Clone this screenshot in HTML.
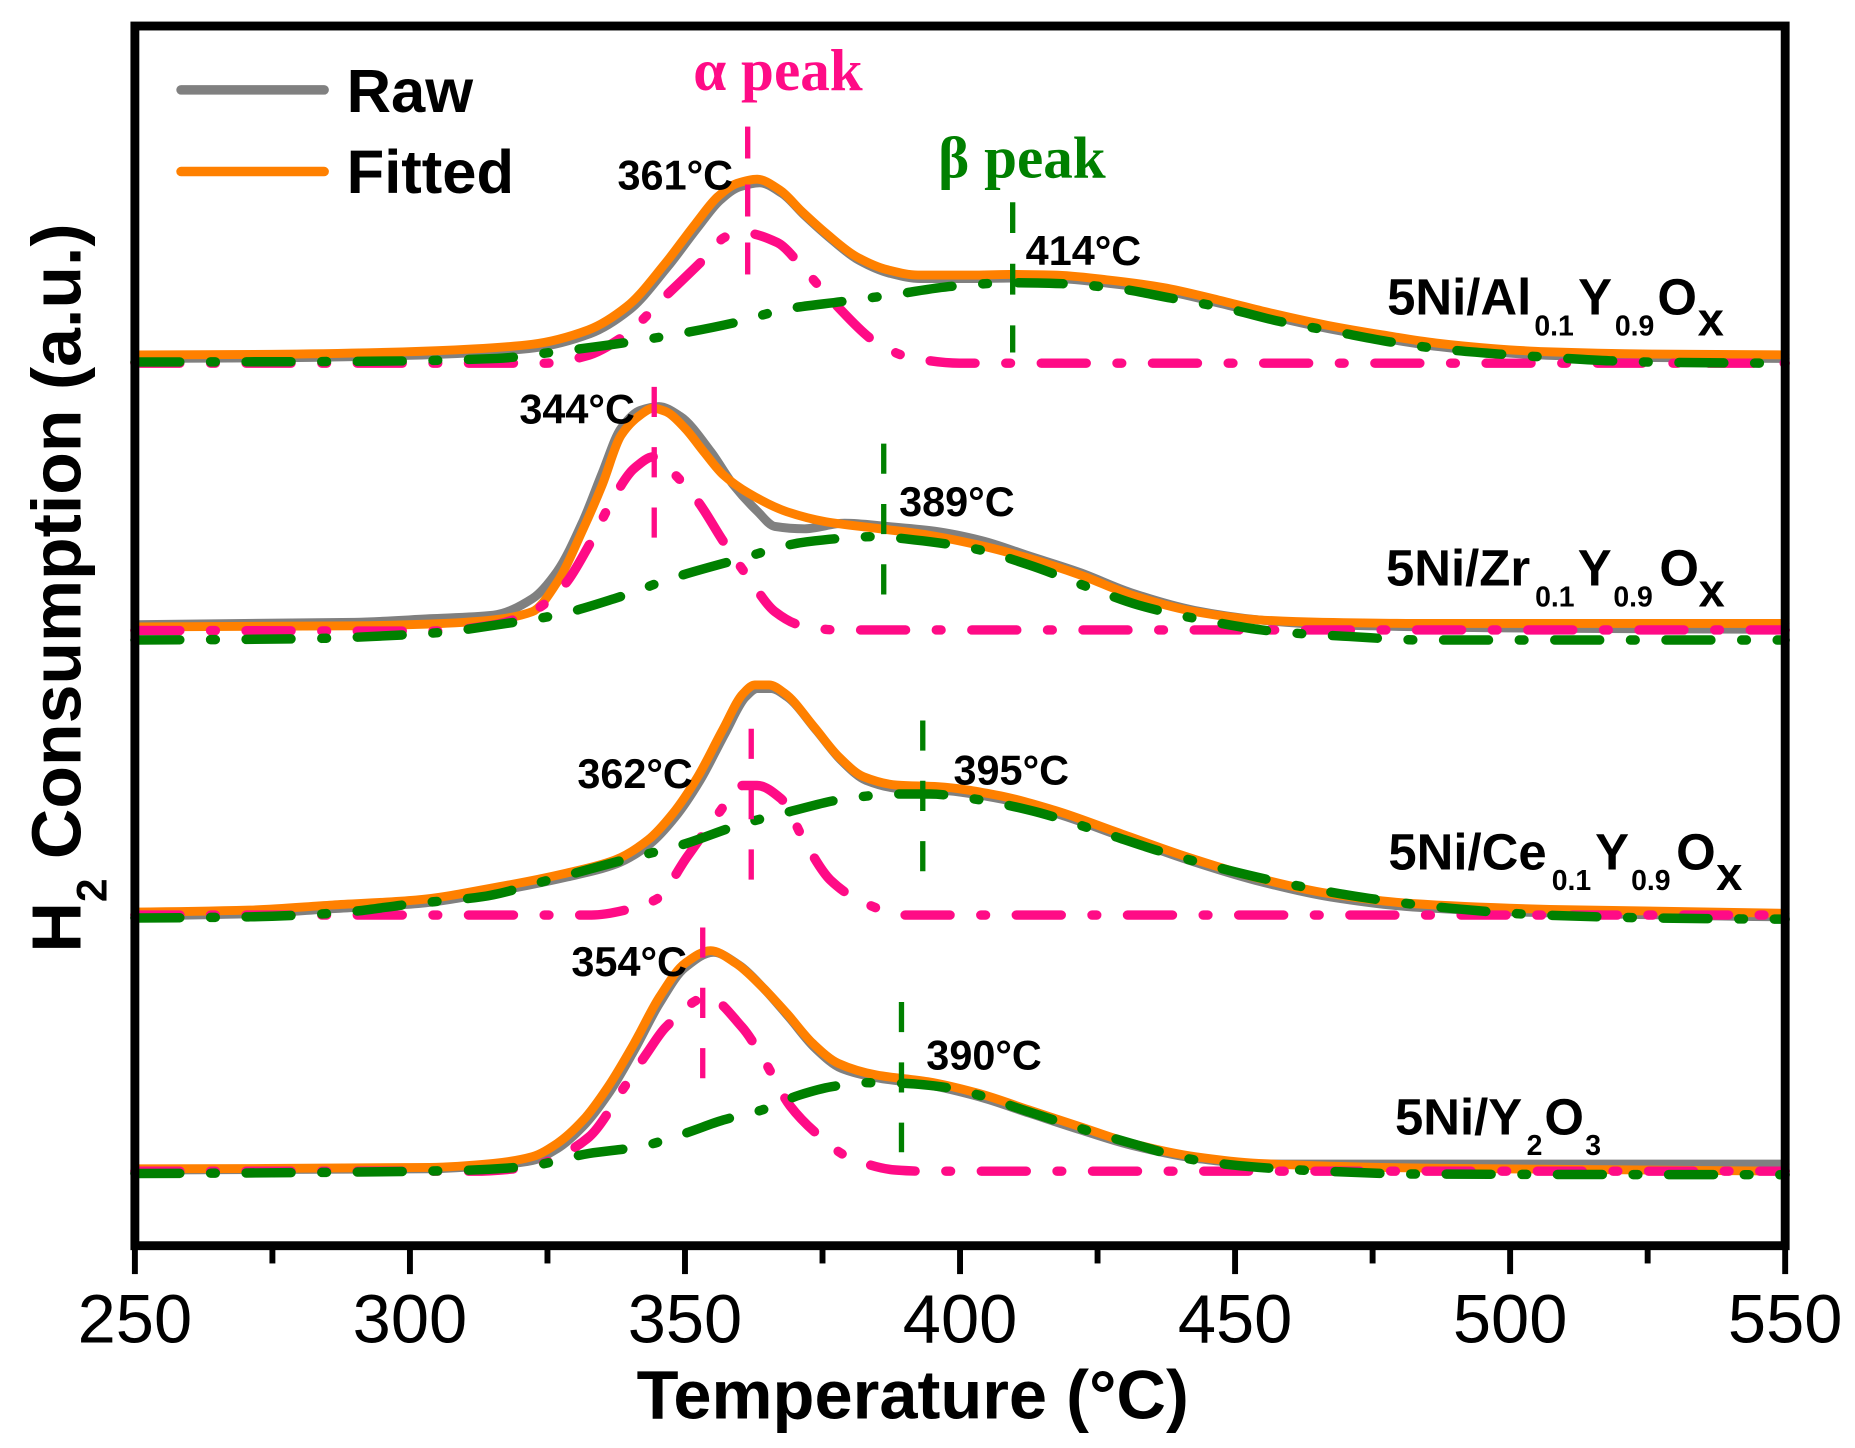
<!DOCTYPE html>
<html>
<head>
<meta charset="utf-8">
<style>
  html, body { margin: 0; padding: 0; background: #fff; }
  svg { display: block; }
</style>
</head>
<body>
<svg xmlns="http://www.w3.org/2000/svg" width="1855" height="1448" viewBox="0 0 1568 1224">
  <rect x="0" y="0" width="1568" height="1224" fill="#fff"/>

  <!-- ===== Panel 1 : 5Ni/Al0.1Y0.9Ox ===== -->
  <polyline class="s" transform="translate(2,3)" fill="none" stroke="#808080" stroke-width="7.5" stroke-linejoin="round" stroke-linecap="round"
    points="114,300 230,299.5 340,297.5 400,295 450,291 497,279 530,259 562,223 588,189 607,166 623,155 640,151.5 659,160.5 678,179 698,197 724,217 750,228 776,232.5 821,232.5 853,232 891,232.5 937,236.7 983,243 1030,253.6 1076,265 1122,275 1168,283 1214,290 1260,294.5 1306,297.3 1398,299.3 1507,300"/>
  <polyline class="s" fill="none" stroke="#ff8000" stroke-width="7.5" stroke-linejoin="round" stroke-linecap="round"
    points="114,300 230,299.5 340,297.5 400,295 450,291 497,279 530,259 562,223 588,189 607,166 623,155 640,151.5 659,160.5 678,179 698,197 724,217 750,228 776,232.5 821,232.5 853,232 891,232.5 937,236.7 983,243 1030,253.6 1076,265 1122,275 1168,283 1214,290 1260,294.5 1306,297.3 1398,299.3 1509,300"/>
  <polyline class="s" fill="none" stroke="#ff0b86" stroke-width="8" stroke-linecap="round" stroke-dasharray="38 26 4 26"
    points="114,307 460,307 495,301 526,285 565,248 594,220 614,200 630,197 657,205 680,228 704,255 743,291 769,302 811,307 1509,307"/>
  <polyline class="s" fill="none" stroke="#008000" stroke-width="8" stroke-linecap="round" stroke-dasharray="38 26 4 26"
    points="114,306 300,305.5 420,303 465,298 526,290 575,282 620,273 666,261 711,255 756,249 805,242 856,239 898,239.8 944,243.8 990,252 1037,260.7 1083,272 1129,280.4 1175,289 1221,295.3 1267,299.3 1315,302.4 1361,305 1407,306.3 1509,307"/>

  <!-- ===== Panel 2 : 5Ni/Zr0.1Y0.9Ox ===== -->
  <polyline class="s" fill="none" stroke="#808080" stroke-width="7.5" stroke-linejoin="round" stroke-linecap="round"
    points="114,528 300,526 363,523 417,520 450,506 471,483 493,440 509,400 525,362 541,347 557,343.7 575,352 601,382 620,410 640,432 655,445 680,447 714,442.3 750,445 790,449 830,457 870,470 913,484 956,501 1010,516 1064,524 1118,528 1300,531 1509,532"/>
  <polyline class="s" fill="none" stroke="#ff8000" stroke-width="7.5" stroke-linejoin="round" stroke-linecap="round"
    points="114,530 300,529 363,527.5 417,524 450,517 471,492 493,447 509,410 525,368 541,351 552,345 563,348 579,362 595,382 611.5,401.5 633,417 665,432.5 698,441 741,446.6 784,452.2 827,460.7 870,472 913,486 956.5,503 1010,517 1064,524 1118,526 1209,527 1509,527"/>
  <polyline class="s" fill="none" stroke="#ff0b86" stroke-width="8" stroke-linecap="round" stroke-dasharray="38 26 4 26"
    points="114,533 363,533.5 417,528.3 450,517 477,494.5 498,460.7 520,418.4 536,396 553,386 568,398.7 590,424 611.5,457.8 633,488.8 655,517 676,528.3 708,532.5 1509,532.5"/>
  <polyline class="s" fill="none" stroke="#008000" stroke-width="8" stroke-linecap="round" stroke-dasharray="38 26 4 26"
    points="114,541 250,540 363.5,535.3 428,527 471,519.8 520,505.8 568,488.8 622,473.4 682,458 741,453.6 773,456.4 822,463.5 870,477.6 919,496 962,511.4 1010,522.7 1080,534 1140,538 1204,541 1509,541"/>

  <!-- ===== Panel 3 : 5Ni/Ce0.1Y0.9Ox ===== -->
  <polyline class="s" transform="translate(2,3)" fill="none" stroke="#808080" stroke-width="7.5" stroke-linejoin="round" stroke-linecap="round"
    points="114,771 211,769.3 281,765 351.5,760.8 421.6,749.6 477.6,738.3 519.7,727 547.7,710.1 568.8,687.6 589.8,656.6 610.8,617.1 628.3,586.1 638,579 650,579 663.4,586.1 688,614.3 709,639.7 730,656.6 758,663.6 793,665 842,672 891,684.8 947,704.5 1003,724.2 1059,741.1 1122.5,755.2 1192.6,763.7 1310,768.7 1507,772"/>
  <polyline class="s" fill="none" stroke="#ff8000" stroke-width="7.5" stroke-linejoin="round" stroke-linecap="round"
    points="114,771 211,769.3 281,765 351.5,760.8 421.6,749.6 477.6,738.3 519.7,727 547.7,710.1 568.8,687.6 589.8,656.6 610.8,617.1 628.3,586.1 638,579 650,579 663.4,586.1 688,614.3 709,639.7 730,656.6 758,663.6 793,665 842,672 891,684.8 947,704.5 1003,724.2 1059,741.1 1122.5,755.2 1192.6,763.7 1310,768.7 1509,772"/>
  <polyline class="s" fill="none" stroke="#ff0b86" stroke-width="8" stroke-linecap="round" stroke-dasharray="38 26 4 26"
    points="114,773.5 500,773.5 534,768 555,760 581,724 607,688 628,664 640,664 660,675 681,713 702,744 730,763 765,773.5 1509,773.5"/>
  <polyline class="s" fill="none" stroke="#008000" stroke-width="8" stroke-linecap="round" stroke-dasharray="38 26 4 26"
    points="114,776 211,775 281,772 351.5,763.7 407.6,758 463.6,744 526.7,727 575.8,714.3 624.8,697.4 667,686.2 716,675 758,671.2 786,671.2 821,675 870,684.8 926,701.7 982,720 1038,735.5 1094,748.2 1157.5,759.4 1227.6,767.9 1304.7,773.5 1400,776 1509,777"/>

  <!-- ===== Panel 4 : 5Ni/Y2O3 ===== -->
  <polyline class="s" fill="none" stroke="#808080" stroke-width="7.5" stroke-linejoin="round" stroke-linecap="round"
    points="114,989 363,988 417,985 450,981 471,971 493,952 514,925 536,888 557.6,848 579,818 603,805 625,816 646,836 667,860 689,886 711,903 741,911 784,917 827,927 870,941 913,955 956,968 1010,979 1064,984 1209,984 1509,984"/>
  <polyline class="s" fill="none" stroke="#ff8000" stroke-width="7.5" stroke-linejoin="round" stroke-linecap="round"
    points="114,988 363.5,986.8 417,983.4 450,977.7 471,966.5 493,946.7 514,918.6 536,882 557.6,842.5 579,814.3 600.7,803.6 622,814.3 644,834 665,856.5 687,882 708.5,898.8 741,908.7 784,914.3 827,924.2 870,938.3 913,952.4 956.5,966.5 1010,977.7 1064,983.4 1209,987.5 1509,990"/>
  <polyline class="s" fill="none" stroke="#ff0b86" stroke-width="8" stroke-linecap="round" stroke-dasharray="38 26 4 26"
    points="114,990 400,990 450,986 471,978 498,961 528,918.5 547,890 563,868 598,843 627,868 644,893 668,935 690,958 717,978 757,989 780,990 1509,990"/>
  <polyline class="s" fill="none" stroke="#008000" stroke-width="8" stroke-linecap="round" stroke-dasharray="38 26 4 26"
    points="114,992 380,989.6 444,986.2 498,975 541,969.3 579,958 611.5,946.7 644,938.3 676,925.6 703,918.6 730,915.2 762,915.7 795,918.6 827,925.6 865,938.3 913,953.8 956.5,966.5 1010,980.5 1064,986.8 1129,990.4 1194,992.4 1509,993"/>

  <!-- ===== vertical peak markers ===== -->
  <g stroke-width="4.5" fill="none">
    <line x1="632" y1="107" x2="632" y2="235" stroke="#ff0b86" stroke-dasharray="27 22"/>
    <line x1="856" y1="171" x2="856" y2="298" stroke="#008000" stroke-dasharray="26 26"/>
    <line x1="553" y1="327" x2="553" y2="455" stroke="#ff0b86" stroke-dasharray="25.5 25.5"/>
    <line x1="747" y1="375" x2="747" y2="503" stroke="#008000" stroke-dasharray="25.5 25.5"/>
    <line x1="635" y1="616" x2="635" y2="744" stroke="#ff0b86" stroke-dasharray="25.5 25.5"/>
    <line x1="780" y1="609" x2="780" y2="737" stroke="#008000" stroke-dasharray="25.5 25.5"/>
    <line x1="594" y1="784" x2="594" y2="912" stroke="#ff0b86" stroke-dasharray="25.5 25.5"/>
    <line x1="762" y1="847" x2="762" y2="974" stroke="#008000" stroke-dasharray="25.5 25.5"/>
  </g>

  <!-- ===== frame & ticks ===== -->
  <rect x="114" y="22" width="1395" height="1031" fill="none" stroke="#000" stroke-width="7.5"/>
  <g stroke="#000" stroke-width="5">
    <line x1="114" y1="1053" x2="114" y2="1077"/>
    <line x1="230.25" y1="1053" x2="230.25" y2="1068"/>
    <line x1="346.5" y1="1053" x2="346.5" y2="1077"/>
    <line x1="462.75" y1="1053" x2="462.75" y2="1068"/>
    <line x1="579" y1="1053" x2="579" y2="1077"/>
    <line x1="695.25" y1="1053" x2="695.25" y2="1068"/>
    <line x1="811.5" y1="1053" x2="811.5" y2="1077"/>
    <line x1="927.75" y1="1053" x2="927.75" y2="1068"/>
    <line x1="1044" y1="1053" x2="1044" y2="1077"/>
    <line x1="1160.25" y1="1053" x2="1160.25" y2="1068"/>
    <line x1="1276.5" y1="1053" x2="1276.5" y2="1077"/>
    <line x1="1392.75" y1="1053" x2="1392.75" y2="1068"/>
    <line x1="1509" y1="1053" x2="1509" y2="1077"/>
  </g>

  <!-- tick labels -->
  <g font-family="'Liberation Sans', Arial, sans-serif" font-size="58" text-anchor="middle" fill="#000">
    <text x="114" y="1135">250</text>
    <text x="346.5" y="1135">300</text>
    <text x="579" y="1135">350</text>
    <text x="811.5" y="1135">400</text>
    <text x="1044" y="1135">450</text>
    <text x="1276.5" y="1135">500</text>
    <text x="1509" y="1135">550</text>
  </g>

  <g font-family="'Liberation Sans', Arial, sans-serif" font-weight="bold" fill="#000">
    <!-- axis titles -->
    <text x="771.5" y="1199" font-size="58" text-anchor="middle">Temperature (°C)</text>
    <text transform="translate(68,497) rotate(-90)" text-anchor="middle" font-size="59">H<tspan font-size="36" dy="22">2</tspan><tspan dy="-22"> Consumption (a.u.)</tspan></text>

    <!-- legend -->
    <line x1="153" y1="76" x2="274" y2="76" stroke="#808080" stroke-width="8" stroke-linecap="round"/>
    <line x1="153" y1="145" x2="274" y2="145" stroke="#ff8000" stroke-width="8" stroke-linecap="round"/>
    <text x="293" y="94.5" font-size="52">Raw</text>
    <text x="293" y="163" font-size="52">Fitted</text>

    <!-- peak temperature labels -->
    <g font-size="35">
      <text x="522" y="160">361°C</text>
      <text x="867" y="224">414°C</text>
      <text x="439" y="358">344°C</text>
      <text x="760" y="436">389°C</text>
      <text x="488" y="666">362°C</text>
      <text x="806" y="663">395°C</text>
      <text x="483" y="825">354°C</text>
      <text x="783" y="904">390°C</text>
    </g>

    <!-- sample labels -->
    <text y="266" font-size="43"><tspan x="1172.5">5Ni/Al</tspan><tspan x="1297" y="283.5" font-size="24">0.1</tspan><tspan x="1334" y="266">Y</tspan><tspan x="1365" y="283.5" font-size="24">0.9</tspan><tspan x="1401" y="266">O</tspan><tspan x="1435" y="283.5" font-size="40">x</tspan></text>
    <text y="495" font-size="43"><tspan x="1171.6">5Ni/Zr</tspan><tspan x="1297.6" y="512.5" font-size="24">0.1</tspan><tspan x="1333.7" y="495">Y</tspan><tspan x="1363.8" y="512.5" font-size="24">0.9</tspan><tspan x="1402.7" y="495">O</tspan><tspan x="1435.7" y="512.5" font-size="40">x</tspan></text>
    <text y="735" font-size="43"><tspan x="1173.6">5Ni/Ce</tspan><tspan x="1311.7" y="752.5" font-size="24">0.1</tspan><tspan x="1348.3" y="735">Y</tspan><tspan x="1378.8" y="752.5" font-size="24">0.9</tspan><tspan x="1416.8" y="735">O</tspan><tspan x="1450.6" y="752.5" font-size="40">x</tspan></text>
    <text y="959" font-size="43"><tspan x="1179.2">5Ni/Y</tspan><tspan x="1290.5" y="976.5" font-size="24">2</tspan><tspan x="1305.5" y="959">O</tspan><tspan x="1340" y="976.5" font-size="24">3</tspan></text>
  </g>

  <!-- peak titles -->
  <g font-family="'Liberation Serif', 'Times New Roman', serif" font-weight="bold" font-size="50">
    <text x="586" y="76" fill="#ff0b86">α peak</text>
    <text x="793" y="150" fill="#008000">β peak</text>
  </g>
</svg>

<script>
(function(){
  var NS = 'http://www.w3.org/2000/svg';
  var pls = Array.prototype.slice.call(document.querySelectorAll('polyline.s'));
  pls.forEach(function(pl){
    var pts = pl.getAttribute('points').trim().split(/\s+/).map(function(p){return p.split(',').map(Number);});
    var n = pts.length;
    var h = [], s = [];
    for (var i=0;i<n-1;i++){
      h.push(pts[i+1][0]-pts[i][0]);
      s.push((pts[i+1][1]-pts[i][1])/h[i]);
    }
    var m = [];
    for (var i=0;i<n;i++){
      if (i===0) { m.push(n>2 && s[0]*s[1] <= 0 ? 0 : s[0]*0.5); }
      else if (i===n-1) { m.push(n>2 && s[n-2]*s[n-3] <= 0 ? 0 : s[n-2]*0.5); }
      else {
        var s0 = s[i-1], s1 = s[i], h0 = h[i-1], h1 = h[i];
        if (s0*s1 <= 0) m.push(0);
        else m.push(3*(h0+h1)/((2*h1+h0)/s0 + (h1+2*h0)/s1));
      }
    }
    var d = 'M' + pts[0][0] + ',' + pts[0][1];
    for (var j=0;j<n-1;j++){
      var hh = h[j];
      var c1x = pts[j][0]+hh/3, c1y = pts[j][1]+m[j]*hh/3;
      var c2x = pts[j+1][0]-hh/3, c2y = pts[j+1][1]-m[j+1]*hh/3;
      d += ' C' + c1x.toFixed(2) + ',' + c1y.toFixed(2) + ' ' + c2x.toFixed(2) + ',' + c2y.toFixed(2) + ' ' + pts[j+1][0] + ',' + pts[j+1][1];
    }
    var path = document.createElementNS(NS,'path');
    for (var k=0;k<pl.attributes.length;k++){
      var a = pl.attributes[k];
      if (a.name!=='points' && a.name!=='class') path.setAttribute(a.name, a.value);
    }
    path.setAttribute('d', d);
    pl.parentNode.replaceChild(path, pl);
  });
})();
</script>
</body>
</html>
